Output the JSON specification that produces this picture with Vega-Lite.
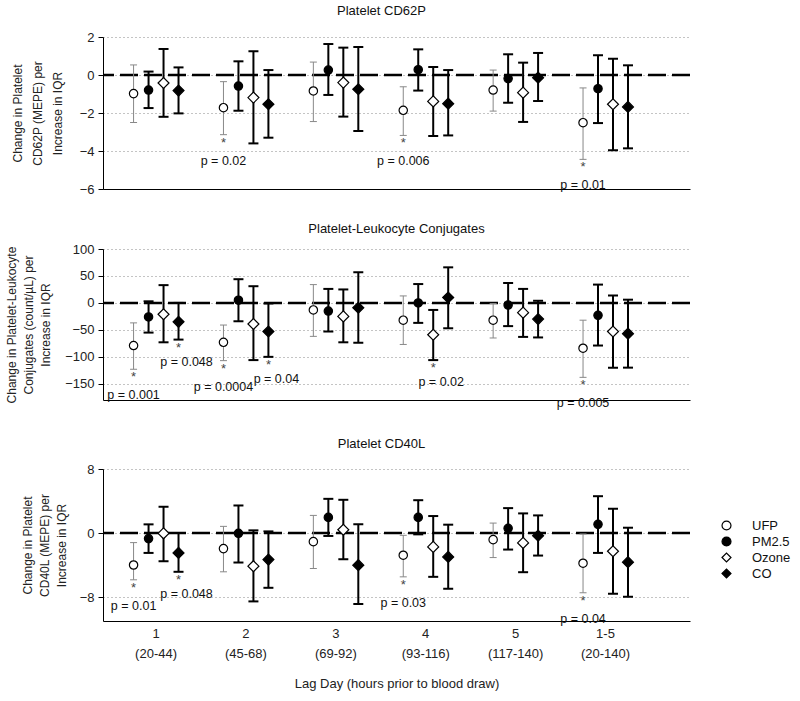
{
  "$schema": "https://vega.github.io/schema/vega-lite/v6.json",
  "padding": {"left": 5, "top": 5, "right": 5, "bottom": 5},
  "datasets": {
    "cd62p": [
      {"lag": "1 (20-44)", "pollutant": "UFP", "est": -0.98, "lo": -2.5, "hi": 0.53},
      {"lag": "1 (20-44)", "pollutant": "PM2.5", "est": -0.79, "lo": -1.74, "hi": 0.18},
      {"lag": "1 (20-44)", "pollutant": "Ozone", "est": -0.42, "lo": -2.2, "hi": 1.37},
      {"lag": "1 (20-44)", "pollutant": "CO", "est": -0.82, "lo": -2.02, "hi": 0.4},
      {"lag": "2 (45-68)", "pollutant": "UFP", "est": -1.72, "lo": -3.14, "hi": -0.35, "p": "p = 0.02"},
      {"lag": "2 (45-68)", "pollutant": "PM2.5", "est": -0.58, "lo": -1.88, "hi": 0.72},
      {"lag": "2 (45-68)", "pollutant": "Ozone", "est": -1.19, "lo": -3.6, "hi": 1.25},
      {"lag": "2 (45-68)", "pollutant": "CO", "est": -1.54, "lo": -3.3, "hi": 0.26},
      {"lag": "3 (69-92)", "pollutant": "UFP", "est": -0.84, "lo": -2.45, "hi": 0.68},
      {"lag": "3 (69-92)", "pollutant": "PM2.5", "est": 0.26, "lo": -1.05, "hi": 1.63},
      {"lag": "3 (69-92)", "pollutant": "Ozone", "est": -0.4, "lo": -2.19, "hi": 1.44},
      {"lag": "3 (69-92)", "pollutant": "CO", "est": -0.75, "lo": -2.95, "hi": 1.47},
      {"lag": "4 (93-116)", "pollutant": "UFP", "est": -1.86, "lo": -3.18, "hi": -0.62, "p": "p = 0.006"},
      {"lag": "4 (93-116)", "pollutant": "PM2.5", "est": 0.28, "lo": -0.82, "hi": 1.35},
      {"lag": "4 (93-116)", "pollutant": "Ozone", "est": -1.39, "lo": -3.21, "hi": 0.42},
      {"lag": "4 (93-116)", "pollutant": "CO", "est": -1.51, "lo": -3.18, "hi": 0.26},
      {"lag": "5 (117-140)", "pollutant": "UFP", "est": -0.79, "lo": -1.9, "hi": 0.26},
      {"lag": "5 (117-140)", "pollutant": "PM2.5", "est": -0.19, "lo": -1.46, "hi": 1.09},
      {"lag": "5 (117-140)", "pollutant": "Ozone", "est": -0.93, "lo": -2.47, "hi": 0.65},
      {"lag": "5 (117-140)", "pollutant": "CO", "est": -0.14, "lo": -1.37, "hi": 1.16},
      {"lag": "1-5 (20-140)", "pollutant": "UFP", "est": -2.51, "lo": -4.44, "hi": -0.68, "p": "p = 0.01"},
      {"lag": "1-5 (20-140)", "pollutant": "PM2.5", "est": -0.72, "lo": -2.53, "hi": 1.04},
      {"lag": "1-5 (20-140)", "pollutant": "Ozone", "est": -1.54, "lo": -3.96, "hi": 0.86},
      {"lag": "1-5 (20-140)", "pollutant": "CO", "est": -1.68, "lo": -3.86, "hi": 0.51}
    ],
    "plc": [
      {"lag": "1 (20-44)", "pollutant": "UFP", "est": -79, "lo": -123, "hi": -37, "p": "p = 0.001"},
      {"lag": "1 (20-44)", "pollutant": "PM2.5", "est": -26, "lo": -55, "hi": 3},
      {"lag": "1 (20-44)", "pollutant": "Ozone", "est": -21, "lo": -73, "hi": 33},
      {"lag": "1 (20-44)", "pollutant": "CO", "est": -35, "lo": -68, "hi": 0, "p": "p = 0.048"},
      {"lag": "2 (45-68)", "pollutant": "UFP", "est": -73, "lo": -107, "hi": -41, "p": "p = 0.0004"},
      {"lag": "2 (45-68)", "pollutant": "PM2.5", "est": 5, "lo": -34, "hi": 44},
      {"lag": "2 (45-68)", "pollutant": "Ozone", "est": -39, "lo": -106, "hi": 31},
      {"lag": "2 (45-68)", "pollutant": "CO", "est": -53, "lo": -100, "hi": -1, "p": "p = 0.04"},
      {"lag": "3 (69-92)", "pollutant": "UFP", "est": -13, "lo": -62, "hi": 34},
      {"lag": "3 (69-92)", "pollutant": "PM2.5", "est": -15, "lo": -53, "hi": 26},
      {"lag": "3 (69-92)", "pollutant": "Ozone", "est": -25, "lo": -73, "hi": 25},
      {"lag": "3 (69-92)", "pollutant": "CO", "est": -9, "lo": -74, "hi": 57},
      {"lag": "4 (93-116)", "pollutant": "UFP", "est": -32, "lo": -77, "hi": 13},
      {"lag": "4 (93-116)", "pollutant": "PM2.5", "est": 0, "lo": -37, "hi": 35},
      {"lag": "4 (93-116)", "pollutant": "Ozone", "est": -59, "lo": -106, "hi": -13, "p": "p = 0.02"},
      {"lag": "4 (93-116)", "pollutant": "CO", "est": 10, "lo": -47, "hi": 66},
      {"lag": "5 (117-140)", "pollutant": "UFP", "est": -32, "lo": -65, "hi": -1},
      {"lag": "5 (117-140)", "pollutant": "PM2.5", "est": -4, "lo": -43, "hi": 37},
      {"lag": "5 (117-140)", "pollutant": "Ozone", "est": -18, "lo": -63, "hi": 26},
      {"lag": "5 (117-140)", "pollutant": "CO", "est": -30, "lo": -64, "hi": 4},
      {"lag": "1-5 (20-140)", "pollutant": "UFP", "est": -84, "lo": -138, "hi": -32, "p": "p = 0.005"},
      {"lag": "1-5 (20-140)", "pollutant": "PM2.5", "est": -23, "lo": -79, "hi": 34},
      {"lag": "1-5 (20-140)", "pollutant": "Ozone", "est": -53, "lo": -120, "hi": 14},
      {"lag": "1-5 (20-140)", "pollutant": "CO", "est": -57, "lo": -120, "hi": 6}
    ],
    "cd40l": [
      {"lag": "1 (20-44)", "pollutant": "UFP", "est": -4.0, "lo": -5.85, "hi": -1.2, "p": "p = 0.01"},
      {"lag": "1 (20-44)", "pollutant": "PM2.5", "est": -0.7, "lo": -2.49, "hi": 1.08},
      {"lag": "1 (20-44)", "pollutant": "Ozone", "est": -0.04, "lo": -3.53, "hi": 3.28},
      {"lag": "1 (20-44)", "pollutant": "CO", "est": -2.49, "lo": -4.85, "hi": 0, "p": "p = 0.048"},
      {"lag": "2 (45-68)", "pollutant": "UFP", "est": -1.95, "lo": -4.85, "hi": 0.83},
      {"lag": "2 (45-68)", "pollutant": "PM2.5", "est": -0.04, "lo": -3.69, "hi": 3.44},
      {"lag": "2 (45-68)", "pollutant": "Ozone", "est": -4.15, "lo": -8.55, "hi": 0.33},
      {"lag": "2 (45-68)", "pollutant": "CO", "est": -3.32, "lo": -6.85, "hi": 0.2},
      {"lag": "3 (69-92)", "pollutant": "UFP", "est": -1.08, "lo": -4.44, "hi": 2.2},
      {"lag": "3 (69-92)", "pollutant": "PM2.5", "est": 1.95, "lo": -0.37, "hi": 4.27},
      {"lag": "3 (69-92)", "pollutant": "Ozone", "est": 0.41, "lo": -3.28, "hi": 4.15},
      {"lag": "3 (69-92)", "pollutant": "CO", "est": -4.02, "lo": -8.88, "hi": 1.08},
      {"lag": "4 (93-116)", "pollutant": "UFP", "est": -2.78, "lo": -5.48, "hi": -0.29, "p": "p = 0.03"},
      {"lag": "4 (93-116)", "pollutant": "PM2.5", "est": 1.95, "lo": -0.17, "hi": 4.1},
      {"lag": "4 (93-116)", "pollutant": "Ozone", "est": -1.74, "lo": -5.48, "hi": 2.12},
      {"lag": "4 (93-116)", "pollutant": "CO", "est": -2.99, "lo": -6.97, "hi": 1.04},
      {"lag": "5 (117-140)", "pollutant": "UFP", "est": -0.83, "lo": -3.07, "hi": 1.24},
      {"lag": "5 (117-140)", "pollutant": "PM2.5", "est": 0.58, "lo": -2.07, "hi": 3.11},
      {"lag": "5 (117-140)", "pollutant": "Ozone", "est": -1.24, "lo": -4.9, "hi": 2.45},
      {"lag": "5 (117-140)", "pollutant": "CO", "est": -0.33, "lo": -2.82, "hi": 2.2},
      {"lag": "1-5 (20-140)", "pollutant": "UFP", "est": -3.78, "lo": -7.47, "hi": -0.12, "p": "p = 0.04"},
      {"lag": "1-5 (20-140)", "pollutant": "PM2.5", "est": 1.08, "lo": -2.49, "hi": 4.6},
      {"lag": "1-5 (20-140)", "pollutant": "Ozone", "est": -2.28, "lo": -7.59, "hi": 3.03},
      {"lag": "1-5 (20-140)", "pollutant": "CO", "est": -3.65, "lo": -7.97, "hi": 0.66}
    ]
  },
  "config": {
    "font": "Liberation Sans",
    "view": {"stroke": null},
    "axis": {"labelFontSize": 13, "labelColor": "#222", "labelOverlap": false, "titleFontSize": 12, "titleFontWeight": "normal", "titleColor": "#222", "domainColor": "black", "tickColor": "black", "gridColor": "#888", "gridDash": [1, 3], "gridWidth": 1},
    "title": {"fontSize": 13, "fontWeight": "normal", "color": "#111"}
  },
  "resolve": {"legend": {"shape": "independent", "fill": "independent", "stroke": "independent"}, "scale": {"shape": "independent", "fill": "independent", "stroke": "independent"}},
  "spacing": 27,
  "vconcat": [
    {
      "data": {"name": "cd62p"},
      "width": 587, "height": 152,
      "title": {"text": "Platelet CD62P", "offset": 13, "dx": -15},
      "layer": [
        {"data": {"values": [{}]}, "mark": {"type": "rule", "strokeDash": [18, 6], "strokeWidth": 2.5, "color": "black"},
         "encoding": {"y": {"datum": 0, "type": "quantitative", "scale": {"domain": [-6, 2], "nice": false, "zero": false},
           "axis": {"title": ["Change in Platelet", "CD62P (MEPE) per", "Increase in IQR"], "values": [-6, -4, -2, 0, 2], "tickCount": 5, "grid": true, "tickSize": 5, "labelPadding": 4, "titlePadding": 14.5, "titleLineHeight": 20}}}},
        {"transform": [{"filter": "datum.pollutant === 'UFP'"}],
         "encoding": {
           "x": {"field": "lag", "type": "nominal", "sort": null, "scale": {"domain": ["1 (20-44)", "2 (45-68)", "3 (69-92)", "4 (93-116)", "5 (117-140)", "1-5 (20-140)"], "paddingInner": 0, "paddingOuter": 0.265, "align": 0.17},
                 "axis": {"title": null, "labels": false, "ticks": false, "grid": false}},
           "xOffset": {"field": "pollutant", "type": "nominal", "scale": {"domain": ["UFP", "PM2.5", "Ozone", "CO"], "paddingInner": 0, "paddingOuter": 1.2}}
         },
         "layer": [
           {"mark": {"type": "rule", "color": "#888", "strokeWidth": 1}, "encoding": {"y": {"field": "lo", "type": "quantitative"}, "y2": {"field": "hi"}}},
           {"mark": {"type": "tick", "orient": "horizontal", "color": "#888", "thickness": 1, "size": 7, "opacity": 1}, "encoding": {"y": {"field": "lo", "type": "quantitative"}}},
           {"mark": {"type": "tick", "orient": "horizontal", "color": "#888", "thickness": 1, "size": 7, "opacity": 1}, "encoding": {"y": {"field": "hi", "type": "quantitative"}}},
           {"transform": [{"filter": "isValid(datum.p)"}], "mark": {"type": "text", "baseline": "middle", "dy": 26, "fontSize": 12.5, "color": "#111"}, "encoding": {"y": {"field": "lo", "type": "quantitative"}, "text": {"field": "p"}}}
         ]},
        {"transform": [{"filter": "datum.pollutant !== 'UFP'"}],
         "encoding": {
           "x": {"field": "lag", "type": "nominal", "sort": null},
           "xOffset": {"field": "pollutant", "type": "nominal"}
         },
         "layer": [
           {"mark": {"type": "rule", "color": "black", "strokeWidth": 2}, "encoding": {"y": {"field": "lo", "type": "quantitative"}, "y2": {"field": "hi"}}},
           {"mark": {"type": "tick", "orient": "horizontal", "color": "black", "thickness": 2, "size": 10, "opacity": 1}, "encoding": {"y": {"field": "lo", "type": "quantitative"}}},
           {"mark": {"type": "tick", "orient": "horizontal", "color": "black", "thickness": 2, "size": 10, "opacity": 1}, "encoding": {"y": {"field": "hi", "type": "quantitative"}}},
           {"transform": [{"filter": "isValid(datum.p)"}], "mark": {"type": "text", "baseline": "middle", "dy": 22, "dx": 8, "fontSize": 12.5, "color": "#111"}, "encoding": {"y": {"field": "lo", "type": "quantitative"}, "text": {"field": "p"}}}
         ]},
        {"mark": {"type": "point", "filled": true, "opacity": 1, "strokeWidth": 1.2},
         "encoding": {
           "x": {"field": "lag", "type": "nominal", "sort": null},
           "xOffset": {"field": "pollutant", "type": "nominal"},
           "y": {"field": "est", "type": "quantitative"},
           "size": {"condition": {"test": "datum.pollutant === 'Ozone' || datum.pollutant === 'CO'", "value": 120}, "value": 70},
           "shape": {"field": "pollutant", "type": "nominal", "scale": {"domain": ["UFP", "PM2.5", "Ozone", "CO"], "range": ["circle", "circle", "diamond", "diamond"]}, "legend": null},
           "fill": {"field": "pollutant", "type": "nominal", "scale": {"domain": ["UFP", "PM2.5", "Ozone", "CO"], "range": ["white", "black", "white", "black"]}, "legend": null},
           "stroke": {"field": "pollutant", "type": "nominal", "scale": {"domain": ["UFP", "PM2.5", "Ozone", "CO"], "range": ["black", "black", "black", "black"]}, "legend": null}
         }},
        {"transform": [{"filter": "isValid(datum.p)"}],
         "mark": {"type": "text", "text": "*", "baseline": "top", "dy": 2, "fontSize": 13, "color": "#444"},
         "encoding": {"x": {"field": "lag", "type": "nominal", "sort": null}, "xOffset": {"field": "pollutant", "type": "nominal"}, "y": {"field": "lo", "type": "quantitative"}}}
      ]
    },
    {
      "data": {"name": "plc"},
      "width": 587, "height": 151,
      "title": {"text": "Platelet-Leukocyte Conjugates", "offset": 7},
      "layer": [
        {"data": {"values": [{}]}, "mark": {"type": "rule", "strokeDash": [18, 6], "strokeWidth": 2.5, "color": "black"},
         "encoding": {"y": {"datum": 0, "type": "quantitative", "scale": {"domain": [-180, 100], "nice": false, "zero": false},
           "axis": {"title": ["Change in Platelet-Leukocyte", "Conjugates (count/µL) per", "Increase in IQR"], "values": [-150, -100, -50, 0, 50, 100], "tickCount": 6, "grid": true, "tickSize": 5, "labelPadding": 4, "titlePadding": 12, "titleLineHeight": 17}}}},
        {"transform": [{"filter": "datum.pollutant === 'UFP'"}],
         "encoding": {
           "x": {"field": "lag", "type": "nominal", "sort": null, "scale": {"domain": ["1 (20-44)", "2 (45-68)", "3 (69-92)", "4 (93-116)", "5 (117-140)", "1-5 (20-140)"], "paddingInner": 0, "paddingOuter": 0.265, "align": 0.17},
                 "axis": {"title": " ", "titleFontSize": 12, "titlePadding": 0, "labels": false, "ticks": false, "grid": false}},
           "xOffset": {"field": "pollutant", "type": "nominal", "scale": {"domain": ["UFP", "PM2.5", "Ozone", "CO"], "paddingInner": 0, "paddingOuter": 1.2}}
         },
         "layer": [
           {"mark": {"type": "rule", "color": "#888", "strokeWidth": 1}, "encoding": {"y": {"field": "lo", "type": "quantitative"}, "y2": {"field": "hi"}}},
           {"mark": {"type": "tick", "orient": "horizontal", "color": "#888", "thickness": 1, "size": 7, "opacity": 1}, "encoding": {"y": {"field": "lo", "type": "quantitative"}}},
           {"mark": {"type": "tick", "orient": "horizontal", "color": "#888", "thickness": 1, "size": 7, "opacity": 1}, "encoding": {"y": {"field": "hi", "type": "quantitative"}}},
           {"transform": [{"filter": "isValid(datum.p)"}], "mark": {"type": "text", "baseline": "middle", "dy": 26, "fontSize": 12.5, "color": "#111"}, "encoding": {"y": {"field": "lo", "type": "quantitative"}, "text": {"field": "p"}}}
         ]},
        {"transform": [{"filter": "datum.pollutant !== 'UFP'"}],
         "encoding": {
           "x": {"field": "lag", "type": "nominal", "sort": null},
           "xOffset": {"field": "pollutant", "type": "nominal"}
         },
         "layer": [
           {"mark": {"type": "rule", "color": "black", "strokeWidth": 2}, "encoding": {"y": {"field": "lo", "type": "quantitative"}, "y2": {"field": "hi"}}},
           {"mark": {"type": "tick", "orient": "horizontal", "color": "black", "thickness": 2, "size": 10, "opacity": 1}, "encoding": {"y": {"field": "lo", "type": "quantitative"}}},
           {"mark": {"type": "tick", "orient": "horizontal", "color": "black", "thickness": 2, "size": 10, "opacity": 1}, "encoding": {"y": {"field": "hi", "type": "quantitative"}}},
           {"transform": [{"filter": "isValid(datum.p)"}], "mark": {"type": "text", "baseline": "middle", "dy": 22, "dx": 8, "fontSize": 12.5, "color": "#111"}, "encoding": {"y": {"field": "lo", "type": "quantitative"}, "text": {"field": "p"}}}
         ]},
        {"mark": {"type": "point", "filled": true, "opacity": 1, "strokeWidth": 1.2},
         "encoding": {
           "x": {"field": "lag", "type": "nominal", "sort": null},
           "xOffset": {"field": "pollutant", "type": "nominal"},
           "y": {"field": "est", "type": "quantitative"},
           "size": {"condition": {"test": "datum.pollutant === 'Ozone' || datum.pollutant === 'CO'", "value": 120}, "value": 70},
           "shape": {"field": "pollutant", "type": "nominal", "scale": {"domain": ["UFP", "PM2.5", "Ozone", "CO"], "range": ["circle", "circle", "diamond", "diamond"]}, "legend": null},
           "fill": {"field": "pollutant", "type": "nominal", "scale": {"domain": ["UFP", "PM2.5", "Ozone", "CO"], "range": ["white", "black", "white", "black"]}, "legend": null},
           "stroke": {"field": "pollutant", "type": "nominal", "scale": {"domain": ["UFP", "PM2.5", "Ozone", "CO"], "range": ["black", "black", "black", "black"]}, "legend": null}
         }},
        {"transform": [{"filter": "isValid(datum.p)"}],
         "mark": {"type": "text", "text": "*", "baseline": "top", "dy": 2, "fontSize": 13, "color": "#444"},
         "encoding": {"x": {"field": "lag", "type": "nominal", "sort": null}, "xOffset": {"field": "pollutant", "type": "nominal"}, "y": {"field": "lo", "type": "quantitative"}}}
      ]
    },
    {
      "data": {"name": "cd40l"},
      "width": 587, "height": 152,
      "title": {"text": "Platelet CD40L", "offset": 12, "dx": -15},
      "layer": [
        {"data": {"values": [{}]}, "mark": {"type": "rule", "strokeDash": [18, 6], "strokeWidth": 2.5, "color": "black"},
         "encoding": {"y": {"datum": 0, "type": "quantitative", "scale": {"domain": [-11, 8], "nice": false, "zero": false},
           "axis": {"title": ["Change in Platelet", "CD40L (MEPE) per", "Increase in IQR"], "values": [-8, -4, 0, 4, 8], "grid": true, "tickSize": 5, "labelPadding": 4, "titlePadding": 10.5, "titleLineHeight": 17}}}},
        {"transform": [{"filter": "datum.pollutant === 'UFP'"}],
         "encoding": {
           "x": {"field": "lag", "type": "nominal", "sort": null, "scale": {"domain": ["1 (20-44)", "2 (45-68)", "3 (69-92)", "4 (93-116)", "5 (117-140)", "1-5 (20-140)"], "paddingInner": 0, "paddingOuter": 0.265, "align": 0.17},
                 "axis": {"title": "Lag Day (hours prior to blood draw)", "titleFontSize": 13, "titlePadding": 17, "labelExpr": "split(datum.label, ' ')", "labelLineHeight": 20, "labelPadding": 6, "labelAngle": 0, "ticks": false, "grid": false}},
           "xOffset": {"field": "pollutant", "type": "nominal", "scale": {"domain": ["UFP", "PM2.5", "Ozone", "CO"], "paddingInner": 0, "paddingOuter": 1.2}}
         },
         "layer": [
           {"mark": {"type": "rule", "color": "#888", "strokeWidth": 1}, "encoding": {"y": {"field": "lo", "type": "quantitative"}, "y2": {"field": "hi"}}},
           {"mark": {"type": "tick", "orient": "horizontal", "color": "#888", "thickness": 1, "size": 7, "opacity": 1}, "encoding": {"y": {"field": "lo", "type": "quantitative"}}},
           {"mark": {"type": "tick", "orient": "horizontal", "color": "#888", "thickness": 1, "size": 7, "opacity": 1}, "encoding": {"y": {"field": "hi", "type": "quantitative"}}},
           {"transform": [{"filter": "isValid(datum.p)"}], "mark": {"type": "text", "baseline": "middle", "dy": 26, "fontSize": 12.5, "color": "#111"}, "encoding": {"y": {"field": "lo", "type": "quantitative"}, "text": {"field": "p"}}}
         ]},
        {"transform": [{"filter": "datum.pollutant !== 'UFP'"}],
         "encoding": {
           "x": {"field": "lag", "type": "nominal", "sort": null},
           "xOffset": {"field": "pollutant", "type": "nominal"}
         },
         "layer": [
           {"mark": {"type": "rule", "color": "black", "strokeWidth": 2}, "encoding": {"y": {"field": "lo", "type": "quantitative"}, "y2": {"field": "hi"}}},
           {"mark": {"type": "tick", "orient": "horizontal", "color": "black", "thickness": 2, "size": 10, "opacity": 1}, "encoding": {"y": {"field": "lo", "type": "quantitative"}}},
           {"mark": {"type": "tick", "orient": "horizontal", "color": "black", "thickness": 2, "size": 10, "opacity": 1}, "encoding": {"y": {"field": "hi", "type": "quantitative"}}},
           {"transform": [{"filter": "isValid(datum.p)"}], "mark": {"type": "text", "baseline": "middle", "dy": 22, "dx": 8, "fontSize": 12.5, "color": "#111"}, "encoding": {"y": {"field": "lo", "type": "quantitative"}, "text": {"field": "p"}}}
         ]},
        {"mark": {"type": "point", "filled": true, "opacity": 1, "strokeWidth": 1.2},
         "encoding": {
           "x": {"field": "lag", "type": "nominal", "sort": null},
           "xOffset": {"field": "pollutant", "type": "nominal"},
           "y": {"field": "est", "type": "quantitative"},
           "size": {"condition": {"test": "datum.pollutant === 'Ozone' || datum.pollutant === 'CO'", "value": 120}, "value": 70},
           "shape": {"field": "pollutant", "type": "nominal", "scale": {"domain": ["UFP", "PM2.5", "Ozone", "CO"], "range": ["circle", "circle", "diamond", "diamond"]},
             "legend": {"title": null, "orient": "none", "legendX": 617, "legendY": 50, "padding": 0, "labelFontSize": 13, "labelColor": "#111", "labelOffset": 19, "rowPadding": 1, "symbolSize": 80, "symbolStrokeWidth": 1.2}},
           "fill": {"field": "pollutant", "type": "nominal", "scale": {"domain": ["UFP", "PM2.5", "Ozone", "CO"], "range": ["white", "black", "white", "black"]},
             "legend": {"title": null, "orient": "none", "legendX": 617, "legendY": 50, "padding": 0, "labelFontSize": 13, "labelColor": "#111", "labelOffset": 19, "rowPadding": 1, "symbolSize": 80, "symbolStrokeWidth": 1.2}},
           "stroke": {"field": "pollutant", "type": "nominal", "scale": {"domain": ["UFP", "PM2.5", "Ozone", "CO"], "range": ["black", "black", "black", "black"]},
             "legend": {"title": null, "orient": "none", "legendX": 617, "legendY": 50, "padding": 0, "labelFontSize": 13, "labelColor": "#111", "labelOffset": 19, "rowPadding": 1, "symbolSize": 80, "symbolStrokeWidth": 1.2}}
         }},
        {"transform": [{"filter": "isValid(datum.p)"}],
         "mark": {"type": "text", "text": "*", "baseline": "top", "dy": 2, "fontSize": 13, "color": "#444"},
         "encoding": {"x": {"field": "lag", "type": "nominal", "sort": null}, "xOffset": {"field": "pollutant", "type": "nominal"}, "y": {"field": "lo", "type": "quantitative"}}}
      ]
    }
  ]
}
